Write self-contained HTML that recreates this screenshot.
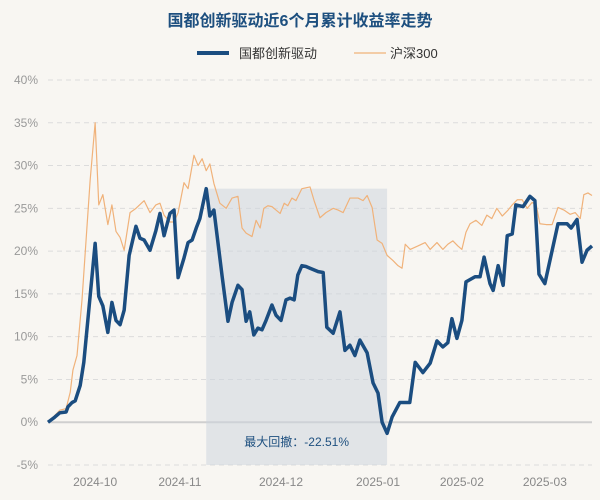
<!DOCTYPE html>
<html><head><meta charset="utf-8"><style>
body{margin:0;background:#f8f6f2;font-family:"Liberation Sans","Noto Sans CJK SC",sans-serif}
svg{display:block}
</style></head><body>
<svg id="c" width="600" height="500">
<rect width="600" height="500" fill="#f8f6f2"/>
<text x="300" y="26" text-anchor="middle" font-size="16" font-weight="bold" fill="#1d4f7f">国都创新驱动近6个月累计收益率走势</text>
<g>
<line x1="197" y1="53" x2="229" y2="53" stroke="#1b4d80" stroke-width="4"/>
<text x="239" y="58" font-size="13" fill="#333">国都创新驱动</text>
<line x1="354" y1="53" x2="386" y2="53" stroke="#f0b27a" stroke-width="1.2"/>
<text x="390" y="58" font-size="13" fill="#333">沪深300</text>
</g>
<g id="grid"></g><g id="shade"></g><g id="lines"></g><g id="labels"></g>
</svg>
<script>
const yTicks=[40,35,30,25,20,15,10,5,0,-5];
const xTickLabels=["2024-10","2024-11","2024-12","2025-01","2025-02","2025-03"];
const xTickDays=[10.4,29.1,51.4,72.8,91.3,109.6];
const totalDays=120;
const fundDays=[0,1.5,2.6,4.0,4.4,5.3,6.0,7.1,7.9,9.0,10.4,11.2,12.1,13.2,14.1,15.0,15.9,16.8,17.9,19.4,20.3,21.2,22.5,23.8,24.7,25.6,26.9,27.8,28.7,30.0,30.9,31.8,32.7,33.5,34.9,35.7,36.6,37.7,38.4,39.7,40.6,41.9,42.8,43.7,44.5,45.4,46.3,47.2,48.1,49.4,50.3,51.4,52.5,53.4,54.3,55.1,56.0,56.9,57.8,59.6,60.7,61.5,62.9,64.4,65.5,66.6,67.7,68.8,70.4,71.7,72.8,73.7,74.8,75.9,77.6,79.8,81.0,82.7,84.3,85.8,87.1,88.2,89.1,90.2,91.3,92.2,94.2,95.3,96.2,97.5,98.2,99.3,100.4,101.3,102.4,103.2,104.8,106.3,107.4,108.3,109.6,112.5,114.5,115.4,116.7,117.8,118.9,120];
const fund=[0,0.6,1.1,1.2,1.8,2.3,2.5,4.3,7.0,13.1,20.9,14.7,13.6,10.5,14.0,11.9,11.4,13.1,19.5,22.9,21.5,21.3,20.1,22.4,24.4,21.8,24.4,24.8,16.9,19.2,21.0,21.3,22.7,23.8,27.3,24.1,24.8,20.1,17.1,11.8,14.0,16.0,15.5,11.8,12.9,10.2,11.0,10.8,11.9,13.7,12.5,11.9,14.3,14.5,14.3,17.2,18.3,18.2,18.0,17.6,17.5,11.1,10.4,12.9,8.4,9.0,7.8,9.6,8.1,4.6,3.4,0,-1.3,0.6,2.3,2.3,7.0,5.8,6.9,9.5,8.8,9.3,12.1,9.8,11.9,16.4,17.0,17.0,19.3,16.2,15.4,18.3,16.0,21.8,22.0,25.4,25.2,26.4,25.9,17.3,16.2,23.2,23.2,22.7,23.7,18.7,20.1,20.6];
const hsDays=[0,1.5,2.6,4.0,4.9,5.5,6.4,7.5,8.4,9.3,10.4,11.2,12.1,13.2,14.1,15.0,15.9,16.8,18.1,19.4,21.2,22.5,23.8,24.7,25.6,26.9,27.8,28.7,30.0,30.9,32.2,33.1,34.0,34.9,35.7,36.6,37.9,39.3,40.6,41.9,42.8,43.7,45.0,45.9,46.8,47.6,48.5,49.4,50.3,51.2,52.1,52.9,53.8,54.7,56.0,57.8,58.7,60.0,61.3,62.9,64.0,65.1,66.6,68.4,69.5,70.4,71.5,72.1,72.6,73.7,74.8,76.1,77.2,78.1,78.8,79.9,81.6,83.2,84.3,85.8,87.1,88.2,89.3,90.4,91.3,92.2,93.1,94.4,95.7,96.8,97.9,99.0,100.2,101.5,102.4,103.5,104.6,105.7,106.8,107.7,108.5,109.9,111.2,112.5,113.8,115.2,116.3,117.4,118.2,119.1,120];
const hs300=[0,0.8,1.4,1.6,3.5,6.1,7.8,14.3,21.3,28.3,35.0,25.4,26.6,23.1,25.4,22.3,21.6,20.1,24.5,25.0,25.9,24.5,25.4,25.6,24.2,23.4,23.4,24.5,28.0,27.3,31.2,30.0,30.8,29.4,30.2,27.9,25.6,25.0,26.2,26.4,22.7,22.1,21.7,23.6,22.7,25.0,25.3,25.2,24.8,24.4,25.6,25.3,26.2,25.9,27.3,27.5,25.9,23.9,24.5,25.0,24.8,24.5,26.2,26.2,25.9,26.5,25.1,23.0,21.3,20.9,19.5,18.9,18.3,18.0,20.8,20.2,20.6,21.0,20.2,21.0,20.2,20.8,21.2,20.6,20.2,22.2,23.2,23.6,23.0,24.2,23.8,25.0,24.1,24.8,25.4,26.0,26.0,25.0,25.7,25.4,23.2,23.1,23.1,25.1,24.8,24.3,24.5,23.8,26.6,26.8,26.5];
const ddStartIdx=34, ddEndIdx=72, ddLabel="最大回撤：-22.51%";
const L=48,R=592,T=80,B=465,NS="http://www.w3.org/2000/svg";
const y=v=>T+(40-v)*(B-T)/45;
const x=d=>L+d*(R-L)/totalDays;
function mk(tag,a,p){const e=document.createElementNS(NS,tag);for(const k in a)e.setAttribute(k,a[k]);p.appendChild(e);return e;}
const g=document.getElementById('grid'),lab=document.getElementById('labels');
yTicks.forEach(t=>{
 const l=mk('line',{x1:L,x2:R,y1:y(t),y2:y(t),stroke:t===0?'#cfcfcf':'#dcdcdc','stroke-width':t===0?2:1,'stroke-dasharray':t===0?'':'5,4'},g);
 
 
 const s=mk('text',{x:38,y:y(t)+4,'text-anchor':'end','font-size':12,fill:'#999'},lab);s.textContent=t+'%';
 
 
});
xTickLabels.forEach((t,k)=>{
 const s=mk('text',{x:x(xTickDays[k]),y:486,'text-anchor':'middle','font-size':12,fill:'#888'},lab);s.textContent=t;
 
 
});
const sh=document.getElementById('shade');
const x0=x(fundDays[ddStartIdx]),x1=x(fundDays[ddEndIdx]);
const r=mk('rect',{x:x0,y:y(fund[ddStartIdx]),width:x1-x0,height:B-y(fund[ddStartIdx]),fill:'#cdd6df',opacity:0.55},sh);


const dt=mk('text',{x:(x0+x1)/2,y:446,'text-anchor':'middle','font-size':12,fill:'#1d4f7f'},sh);dt.textContent=ddLabel;


const ln=document.getElementById('lines');
function path(days,d,col,w,name){
 const p=mk('polyline',{points:d.map((v,i)=>x(days[i])+','+y(v)).join(' '),fill:'none',stroke:col,'stroke-width':w,'stroke-linejoin':'round'},ln);
 
 
}
path(hsDays,hs300,'#f0b27a',1.2,'hs300-line');
path(fundDays,fund,'#1b4d80',3.5,'fund-line');
</script>
</body></html>
